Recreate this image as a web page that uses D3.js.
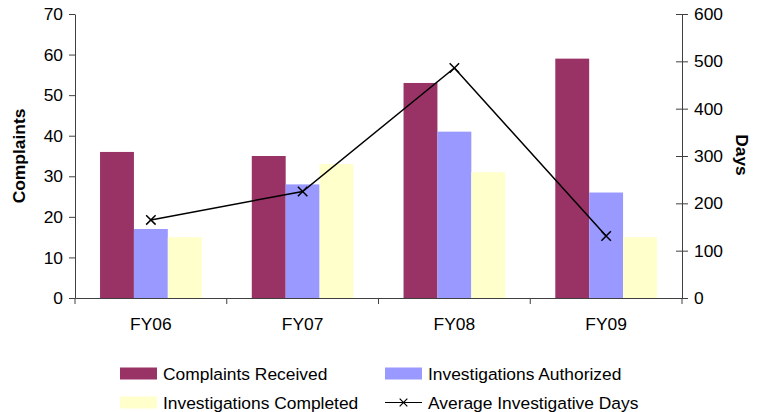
<!DOCTYPE html>
<html>
<head>
<meta charset="utf-8">
<script src="https://cdn.jsdelivr.net/npm/d3@7"></script>
<style>
    body { margin: 0; background: #fff; }
    text { font-family: "Liberation Sans", Arial, sans-serif; fill: #000; }
</style>
</head>
<body>
<div id="chart"></div>
<script>
const years = ["FY06", "FY07", "FY08", "FY09"];
const complaintsReceived = [36, 35, 53, 59];
const investigationsAuthorized = [17, 28, 41, 26];
const investigationsCompleted = [15, 33, 31, 15];
const averageDays = [165, 225, 486, 131];
const leftTicks = [0, 10, 20, 30, 40, 50, 60, 70];
const rightTicks = [0, 100, 200, 300, 400, 500, 600];

const width = 764, height = 412;
const margin = { top: 14, right: 82, bottom: 114, left: 75 };
const chartWidth = width - margin.left - margin.right,
    chartHeight = height - margin.top - margin.bottom;
const fontSize = "17.4px";

const series = [
    { name: "Complaints Received", values: complaintsReceived, color: "#993366" },
    { name: "Investigations Authorized", values: investigationsAuthorized, color: "#9999ff" },
    { name: "Investigations Completed", values: investigationsCompleted, color: "#ffffcc" },
];

const svg = d3.select("#chart")
    .append("svg")
    .attr("width", width)
    .attr("height", height);

const g = svg.append("g")
    .attr("transform", `translate(${margin.left},${margin.top})`);

const x = d3.scaleBand().domain(years).range([0, chartWidth]);
const x1 = d3.scaleBand()
    .domain(series.map((s) => s.name))
    .range([x.bandwidth() * 0.165, x.bandwidth() * 0.835]);
const yLeft = d3.scaleLinear().domain([0, 70]).range([chartHeight, 0]);
const yRight = d3.scaleLinear().domain([0, 600]).range([chartHeight, 0]);

// bars
series.forEach(function (s) {
    g.selectAll(null)
        .data(s.values)
        .enter()
        .append("rect")
        .attr("x", (d, i) => x(years[i]) + x1(s.name))
        .attr("y", (d) => yLeft(d))
        .attr("width", x1.bandwidth())
        .attr("height", (d) => chartHeight - yLeft(d))
        .style("fill", s.color);
});

// axes
const axisColor = "#404040";
const leftAxis = g.append("g")
    .call(d3.axisLeft(yLeft).tickValues(leftTicks).tickSize(6).tickPadding(6).tickSizeOuter(0));
const rightAxis = g.append("g")
    .attr("transform", `translate(${chartWidth},0)`)
    .call(d3.axisRight(yRight).tickValues(rightTicks).tickSize(6).tickPadding(6).tickSizeOuter(0));
rightAxis.selectAll(".tick line").attr("x1", -6);
const bottomAxis = g.append("g")
    .attr("transform", `translate(0,${chartHeight})`)
    .call(d3.axisBottom(x).tickSize(0).tickPadding(20).tickSizeOuter(0));

// category dividers
g.selectAll(null)
    .data(d3.range(years.length + 1))
    .enter()
    .append("line")
    .attr("x1", (i) => i * x.step())
    .attr("x2", (i) => i * x.step())
    .attr("y1", chartHeight)
    .attr("y2", chartHeight + 6)
    .style("stroke", axisColor);

[leftAxis, rightAxis, bottomAxis].forEach(function (a) {
    a.selectAll("path, line").style("stroke", axisColor);
    a.selectAll("text").style("font-size", fontSize).style("fill", "#000");
});

// line series
const line = d3.line()
    .x((d, i) => x(years[i]) + x.bandwidth() / 2)
    .y((d) => yRight(d));

g.append("path")
    .datum(averageDays)
    .attr("d", line)
    .style("fill", "none")
    .style("stroke", "#000")
    .style("stroke-width", 1.5);

const cross = d3.symbol().type(d3.symbolX).size(60);
g.selectAll(null)
    .data(averageDays)
    .enter()
    .append("path")
    .attr("d", cross)
    .attr("transform", (d, i) => `translate(${x(years[i]) + x.bandwidth() / 2},${yRight(d)})`)
    .style("fill", "none")
    .style("stroke", "#000")
    .style("stroke-width", 1.5);

// axis titles
svg.append("text")
    .attr("transform", `translate(25,${margin.top + chartHeight / 2}) rotate(-90)`)
    .attr("text-anchor", "middle")
    .style("font-size", fontSize)
    .style("font-weight", "bold")
    .text("Complaints");

svg.append("text")
    .attr("transform", `translate(736,155) rotate(90)`)
    .attr("text-anchor", "middle")
    .style("font-size", fontSize)
    .style("font-weight", "bold")
    .text("Days");

// legend
const legendItems = [
    { name: series[0].name, color: series[0].color, col: 0, row: 0 },
    { name: series[1].name, color: series[1].color, col: 1, row: 0 },
    { name: series[2].name, color: series[2].color, col: 0, row: 1 },
    { name: "Average Investigative Days", line: true, col: 1, row: 1 },
];

const legend = svg.append("g");
const item = legend.selectAll(null)
    .data(legendItems)
    .enter()
    .append("g")
    .attr("transform", (d) => `translate(${120 + d.col * 265},${373.5 + d.row * 29})`);

item.filter((d) => !d.line)
    .append("rect")
    .attr("x", 0)
    .attr("y", -6)
    .attr("width", 37)
    .attr("height", 12)
    .style("fill", (d) => d.color);

const lineItem = item.filter((d) => d.line);
lineItem.append("line")
    .attr("x1", 0)
    .attr("x2", 37)
    .style("stroke", "#000")
    .style("stroke-width", 1.2);
lineItem.append("path")
    .attr("d", d3.symbol().type(d3.symbolX).size(40))
    .attr("transform", "translate(18.5,0)")
    .style("stroke", "#000")
    .style("stroke-width", 1.2);

item.append("text")
    .attr("x", 43)
    .attr("dy", "0.35em")
    .style("font-size", fontSize)
    .text((d) => d.name);
</script>
</body>
</html>
